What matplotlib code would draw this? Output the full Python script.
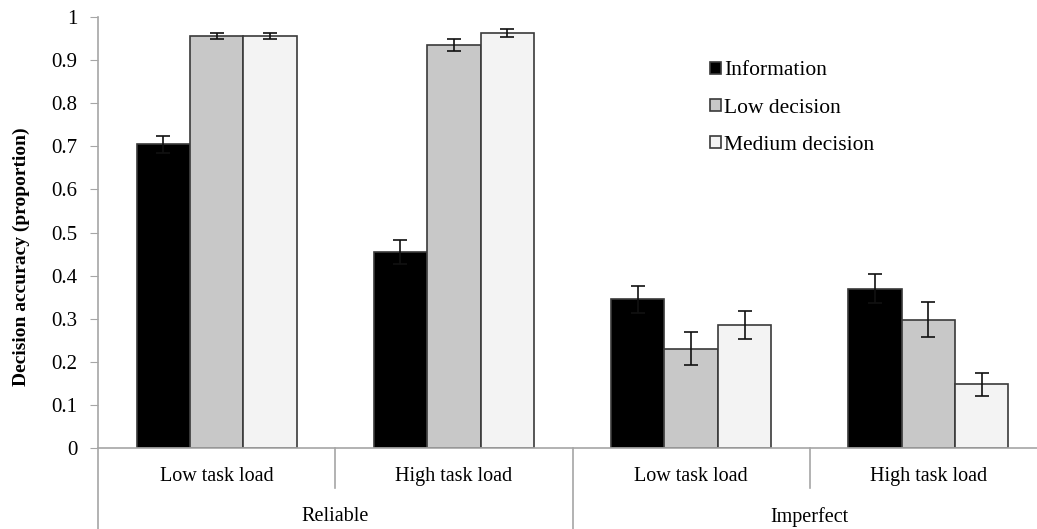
import matplotlib.pyplot as plt
import matplotlib.transforms as mtransforms
import numpy as np

# -------------------------
# DATA
# -------------------------
conditions = ["Low task load", "High task load", "Low task load", "High task load"]
groups = ["Reliable", "Imperfect"]
series = ["Information", "Low decision", "Medium decision"]

information = [0.705, 0.455, 0.345, 0.370]
low_decision = [0.956, 0.935, 0.230, 0.298]
medium_decision = [0.956, 0.963, 0.286, 0.148]

information_err = [0.020, 0.027, 0.031, 0.033]
low_decision_err = [0.007, 0.013, 0.038, 0.040]
medium_decision_err = [0.008, 0.010, 0.033, 0.027]

yticks = [0, 0.1, 0.2, 0.3, 0.4, 0.5, 0.6, 0.7, 0.8, 0.9, 1]
ytick_labels = ["0", "0.1", "0.2", "0.3", "0.4", "0.5", "0.6", "0.7", "0.8", "0.9", "1"]

# -------------------------
# STYLE
# -------------------------
plt.rcParams['font.family'] = ['Liberation Serif', 'DejaVu Serif']
colors = ["#000000", "#c8c8c8", "#f3f3f3"]
edge = "#3a3a3a"
axis_gray = "#a6a6a6"

fig = plt.figure(figsize=(10.37, 5.29), dpi=100)
ax = fig.add_axes([98 / 1037, 81 / 529, 949 / 1037, 431 / 529])

x = np.arange(len(conditions))
w = 0.225
values = [information, low_decision, medium_decision]
errors = [information_err, low_decision_err, medium_decision_err]

for i, (vals, errs) in enumerate(zip(values, errors)):
    pos = x + (i - 1) * w
    ax.bar(pos, vals, width=w, color=colors[i], edgecolor=edge,
           linewidth=1.2, label=series[i], zorder=2)
    ax.errorbar(pos, vals, yerr=errs, fmt="none", ecolor="#111111",
                elinewidth=1.2, capsize=5, capthick=1.2, zorder=3)

ax.set_xlim(-0.5, 3.5)
ax.set_ylim(0, 1)
ax.set_yticks(yticks)
ax.set_yticklabels(ytick_labels, fontsize=15)
ax.tick_params(axis="y", length=6, color=axis_gray, pad=9)
ax.set_xticks([])

for s in ["top", "right"]:
    ax.spines[s].set_visible(False)
ax.spines["left"].set_color(axis_gray)
ax.spines["bottom"].set_color(axis_gray)
ax.spines["left"].set_linewidth(1.2)
ax.spines["bottom"].set_linewidth(1.2)

ax.set_ylabel("Decision accuracy (proportion)", fontsize=14, fontweight="bold")
ax.yaxis.set_label_coords(-0.072, 0.443)

# multi-level category axis
trans = mtransforms.blended_transform_factory(ax.transData, ax.transAxes)
for xs in [0.5, 2.5]:
    ax.plot([xs, xs], [0, -0.093], transform=trans, color=axis_gray,
            lw=1.2, clip_on=False)
for xs in [-0.5, 1.5]:
    ax.plot([xs, xs], [0, -0.2], transform=trans, color=axis_gray,
            lw=1.2, clip_on=False)

for xi, lab in zip(x, conditions):
    ax.text(xi, -0.065, lab, transform=trans, ha="center", va="center",
            fontsize=14.5)
for gi, lab in enumerate(groups):
    ax.text(0.5 + 2 * gi, -0.16, lab, transform=trans, ha="center",
            va="center", fontsize=14.5)

ax.legend(loc="upper left", bbox_to_anchor=(0.645, 0.897), frameon=False,
          fontsize=15.5, handlelength=0.5, handleheight=0.5, handletextpad=0.15,
          labelspacing=0.85, borderaxespad=0, borderpad=0)

fig.savefig("out.png", dpi=100)
